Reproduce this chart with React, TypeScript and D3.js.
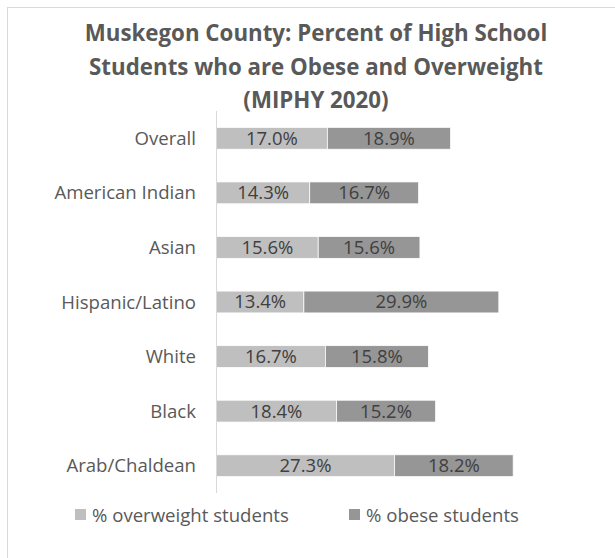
import React from "react";
import * as d3 from "d3";

const titleLines = [
  "Muskegon County: Percent of High School",
  "Students who are Obese and Overweight",
  "(MIPHY 2020)",
];
const categories = [
  "Overall",
  "American Indian",
  "Asian",
  "Hispanic/Latino",
  "White",
  "Black",
  "Arab/Chaldean",
];
const overweight = [17.0, 14.3, 15.6, 13.4, 16.7, 18.4, 27.3];
const obese = [18.9, 16.7, 15.6, 29.9, 15.8, 15.2, 18.2];
const seriesNames = ["% overweight students", "% obese students"];
const seriesColors = ["#bfbfbf", "#969696"];

const W = 615;
const H = 558;
const FONT = "'Open Sans', 'DejaVu Sans', sans-serif";

export default function App() {
  const x = d3.scaleLinear().domain([0, 50]).range([216.5, 216.5 + 326]);
  const y = d3
    .scaleBand<string>()
    .domain(categories)
    .range([111, 493])
    .paddingInner(0.6)
    .paddingOuter(0.3);

  const stacked = categories.map((c, i) => {
    const vals = [overweight[i], obese[i]];
    let acc = 0;
    return vals.map((v, s) => {
      const seg = { cat: c, s, v, x0: acc, x1: acc + v };
      acc += v;
      return seg;
    });
  });

  return (
    <svg
      width={W}
      height={H}
      style={{ position: "absolute", left: 0, top: 0, background: "#fff" }}
      fontFamily={FONT}
    >
      <rect x={7.5} y={7.5} width={618} height={560} fill="#fff" stroke="#d9d9d9" strokeWidth={1} />
      {titleLines.map((t, i) => (
        <text
          key={i}
          x={316}
          y={41 + i * 33.5}
          textAnchor="middle"
          fontSize={22.3}
          fontWeight="bold"
          fill="#595959"
        >
          {t}
        </text>
      ))}
      {stacked.map((segs, i) =>
        segs.map((sg) => (
          <g key={`${i}-${sg.s}`}>
            <rect
              x={x(sg.x0)}
              y={y(sg.cat)!}
              width={x(sg.x1) - x(sg.x0)}
              height={y.bandwidth()}
              fill={seriesColors[sg.s]}
              stroke="#fff"
              strokeWidth={0.75}
            />
            <text
              x={(x(sg.x0) + x(sg.x1)) / 2}
              y={y(sg.cat)! + y.bandwidth() / 2}
              dy="0.35em"
              textAnchor="middle"
              fontSize={18.5}
              fill="#404040"
            >
              {sg.v.toFixed(1) + "%"}
            </text>
          </g>
        ))
      )}
      <line x1={216.5} x2={216.5} y1={111} y2={493} stroke="#d9d9d9" strokeWidth={1} />
      {categories.map((c) => (
        <text
          key={c}
          x={196}
          y={y(c)! + y.bandwidth() / 2}
          dy="0.35em"
          textAnchor="end"
          fontSize={18.6}
          fill="#595959"
        >
          {c}
        </text>
      ))}
      {seriesNames.map((n, i) => {
        const lx = [75, 349][i];
        return (
          <g key={n}>
            <rect x={lx} y={509} width={11} height={11} fill={seriesColors[i]} />
            <text x={lx + 17} y={515} dy="0.35em" fontSize={18.6} fill="#595959">
              {n}
            </text>
          </g>
        );
      })}
    </svg>
  );
}
